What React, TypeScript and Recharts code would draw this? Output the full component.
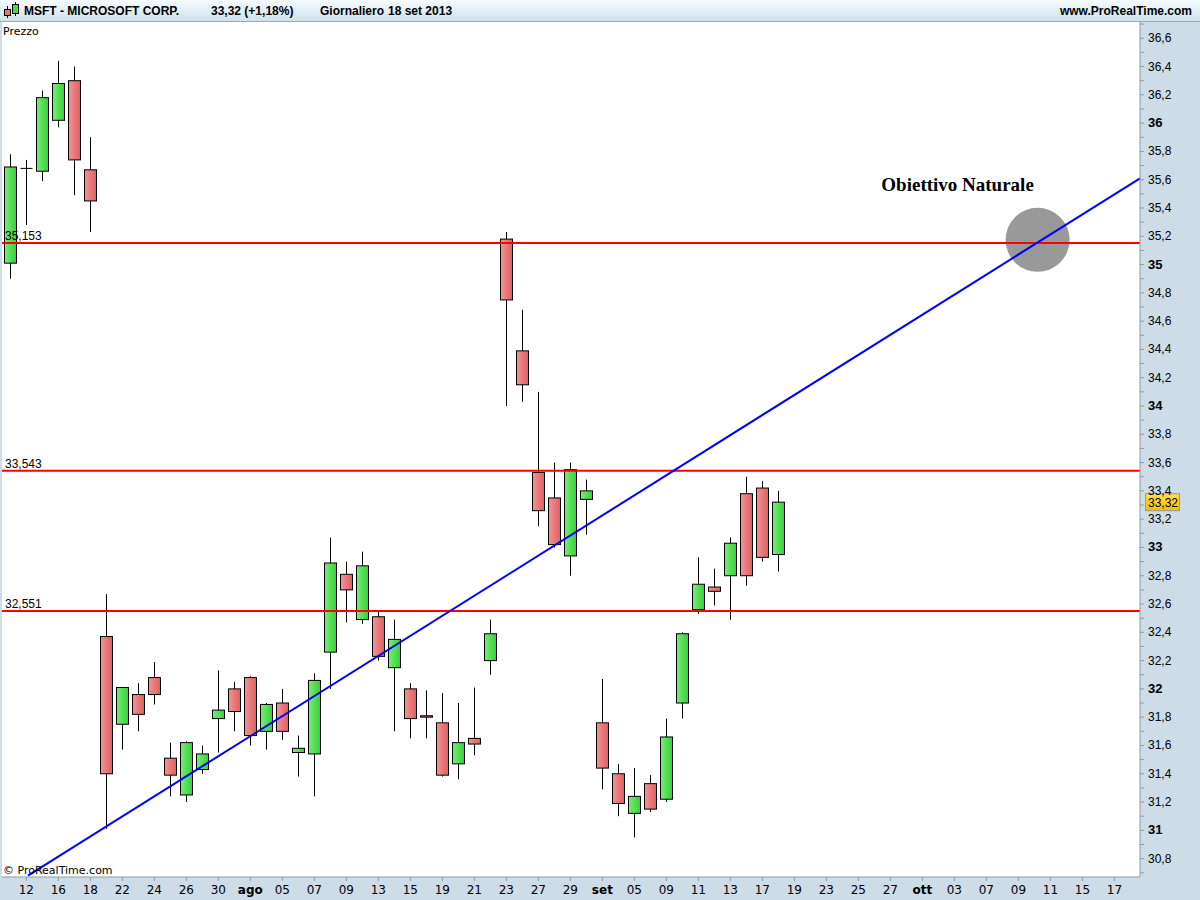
import React from "react";
import {
  ComposedChart,
  Bar,
  XAxis,
  YAxis,
  CartesianGrid,
  ReferenceLine,
} from "recharts";

// daily OHLC, MSFT, one entry per session (11 jul - 18 set 2013)
const opens = [
  35.01, 35.68, 35.66, 36.02, 36.3, 35.67, 32.37, 31.75, 31.96, 32.08, 31.51, 31.25, 31.43,
  31.79, 32.0, 32.08, 31.7, 31.9, 31.55, 31.54, 32.26, 32.81, 32.49, 32.51, 32.15, 32.0,
  31.81, 31.76, 31.47, 31.65, 32.2, 35.18, 34.39, 33.53, 33.35, 32.94, 33.34, 31.76, 31.4,
  31.12, 31.33, 31.22, 31.9, 32.56, 32.72, 32.8, 33.38, 33.42, 32.95,
];
const highs = [
  35.78, 35.74, 36.23, 36.44, 36.4, 35.9, 32.67, 32.01, 32.04, 32.19, 31.62, 31.63, 31.6,
  32.13, 32.05, 32.09, 31.9, 32.0, 31.67, 32.11, 33.07, 32.9, 32.97, 32.55, 32.49, 32.04,
  31.99, 31.97, 31.9, 32.01, 32.49, 35.23, 34.68, 34.1, 33.6, 33.6, 33.48, 32.07, 31.47,
  31.44, 31.39, 31.79, 32.4, 32.93, 32.85, 33.07, 33.5, 33.47, 33.4,
];
const lows = [
  34.9, 35.28, 35.59, 35.97, 35.49, 35.23, 31.01, 31.57, 31.7, 31.89, 31.24, 31.2, 31.4,
  31.55, 31.7, 31.6, 31.57, 31.64, 31.38, 31.24, 32.0, 32.47, 32.46, 32.2, 31.7, 31.65,
  31.65, 31.38, 31.36, 31.53, 32.1, 34.0, 34.03, 33.15, 33.0, 32.8, 33.09, 31.29, 31.1,
  30.95, 31.13, 31.2, 31.79, 32.53, 32.59, 32.49, 32.73, 32.9, 32.83,
];
const closes = [
  35.69, 35.68, 36.18, 36.28, 35.74, 35.45, 31.4, 32.01, 31.82, 31.96, 31.39, 31.62, 31.54,
  31.85, 31.84, 31.67, 31.89, 31.7, 31.58, 32.06, 32.89, 32.7, 32.87, 32.23, 32.35, 31.79,
  31.8, 31.39, 31.62, 31.61, 32.39, 34.75, 34.15, 33.26, 33.02, 33.55, 33.4, 31.44, 31.19,
  31.24, 31.15, 31.66, 32.39, 32.74, 32.69, 33.03, 32.8, 32.93, 33.32,
];

// bottom axis labels, one every two sessions starting from the 2nd session
const dateLabels = [
  "12", "16", "18", "22", "24", "26", "30", "ago", "05", "07", "09", "13", "15", "19", "21",
  "23", "27", "29", "set", "05", "09", "11", "13", "17", "19", "23", "25", "27", "ott", "03",
  "07", "09", "11", "15", "17",
];
const monthLabels = ["ago", "set", "ott"];

const priceLabels = [
  30.8, 31, 31.2, 31.4, 31.6, 31.8, 32, 32.2, 32.4, 32.6, 32.8, 33, 33.2, 33.4, 33.6, 33.8,
  34, 34.2, 34.4, 34.6, 34.8, 35, 35.2, 35.4, 35.6, 35.8, 36, 36.2, 36.4, 36.6,
];

const levels = [35.153, 33.543, 32.551];
const trendLine = [
  { x: 1.1, y: 30.68 },
  { x: 70.6, y: 35.61 },
];
const target = { x: 64.2, y: 35.175, label: "Obiettivo Naturale" };
const lastPrice = 33.32;

const data = opens.map((o, i) => ({
  i,
  open: o,
  high: highs[i],
  low: lows[i],
  close: closes[i],
}));
const dateTicks = dateLabels.map((_, k) => 1 + 2 * k);
const priceTicks = [...priceLabels, ...priceLabels.map((p) => +(p - 0.1).toFixed(1)), 36.7].sort(
  (a, b) => a - b
);

const PANEL = "#cddce6";
const AXIS = "#8d9ba6";
const fmt = (v: number) => String(v).replace(".", ",");

const Candle = (props: any) => {
  const { x, width, payload } = props;
  const y = Math.min(props.y, props.y + props.height);
  const h = Math.abs(props.height);
  const { open, close, high, low } = payload;
  const unit = high > low ? h / (high - low) : 0;
  const yOf = (v: number) => y + (high - v) * unit;
  const cx = Math.round(x + width / 2) + 0.5;
  const top = yOf(Math.max(open, close));
  const bot = yOf(Math.min(open, close));
  const up = close >= open;
  return (
    <g>
      <line x1={cx} x2={cx} y1={y} y2={y + h} stroke="#000" strokeWidth={1} />
      {bot - top < 1 ? (
        <line x1={cx - 6} x2={cx + 6} y1={top} y2={top} stroke="#000" strokeWidth={1} />
      ) : (
        <rect
          x={cx - 6}
          y={top}
          width={12}
          height={bot - top}
          fill={up ? "url(#gUp)" : "url(#gDown)"}
          stroke="#000"
          strokeWidth={1}
        />
      )}
    </g>
  );
};

const PriceTick = (props: any) => {
  const { x, y, payload } = props;
  const v = payload.value;
  const tenth = Math.round(v * 10);
  if (tenth % 2 !== 0 || v > 36.65) return null;
  const whole = tenth % 10 === 0;
  return (
    <text
      x={x}
      y={y + 4}
      fontSize={whole ? 13 : 12}
      fontWeight={whole ? "bold" : "normal"}
      fontFamily="'Liberation Sans', Arial, sans-serif"
      fill="#000"
    >
      {fmt(+v.toFixed(1))}
    </text>
  );
};

const DateTick = (props: any) => {
  const { x, y, payload } = props;
  const label = dateLabels[dateTicks.indexOf(payload.value)] ?? "";
  const bold = monthLabels.includes(label);
  return (
    <text
      x={x}
      y={y + 11}
      textAnchor="middle"
      fontSize={12}
      fontWeight={bold ? "bold" : "normal"}
      fontFamily="'DejaVu Sans', sans-serif"
      fill="#000"
    >
      {label}
    </text>
  );
};

const PriceTag = (props: any) => {
  const { viewBox } = props;
  const x = viewBox.x + viewBox.width + 5;
  const y = viewBox.y;
  return (
    <g>
      <rect x={x + 0.5} y={y - 8.5} width={34} height={17} fill="url(#gTag)" stroke="#9a9a9a" />
      <text
        x={x + 3}
        y={y + 5}
        fontSize={12}
        fontFamily="'Liberation Sans', Arial, sans-serif"
        fill="#000"
      >
        {fmt(lastPrice)}
      </text>
    </g>
  );
};

// grey target circle + caption, drawn as a zero-length reference segment so it sits under the lines
const TargetShape = (props: any) => {
  const { x1, y1 } = props;
  if (x1 == null || y1 == null) return null;
  return (
    <g>
      <circle cx={x1} cy={y1} r={32} fill="#999999" />
      <text
        x={x1 - 80}
        y={y1 - 49}
        textAnchor="middle"
        fontSize={19}
        fontWeight="bold"
        fontFamily="'Liberation Serif', 'Times New Roman', serif"
        fill="#000"
      >
        {target.label}
      </text>
    </g>
  );
};

const headerFont: React.CSSProperties = {
  position: "absolute",
  top: 4,
  fontFamily: "'Liberation Sans', Arial, sans-serif",
  fontWeight: "bold",
  fontSize: 12,
  color: "#000",
  whiteSpace: "nowrap",
};

export default function App() {
  return (
    <div
      style={{
        position: "absolute",
        left: 0,
        top: 0,
        width: 1200,
        height: 900,
        background: PANEL,
        overflow: "hidden",
      }}
    >
      <ComposedChart
        width={1200}
        height={900}
        data={data}
        margin={{ top: 22, right: 0, bottom: 0, left: 2 }}
      >
        <defs>
          <linearGradient id="gUp" x1="0" y1="0" x2="1" y2="0">
            <stop offset="0%" stopColor="#72f272" />
            <stop offset="100%" stopColor="#3dcb3d" />
          </linearGradient>
          <linearGradient id="gDown" x1="0" y1="0" x2="1" y2="0">
            <stop offset="0%" stopColor="#f99191" />
            <stop offset="100%" stopColor="#d96262" />
          </linearGradient>
          <linearGradient id="gTag" x1="0" y1="0" x2="0" y2="1">
            <stop offset="0%" stopColor="#ffe04a" />
            <stop offset="100%" stopColor="#f2bd00" />
          </linearGradient>
        </defs>
        <CartesianGrid fill="#fff" horizontal={false} vertical={false} />
        <XAxis
          dataKey="i"
          type="number"
          domain={[-0.52, 70.6]}
          allowDataOverflow
          ticks={dateTicks}
          interval={0}
          height={23}
          tickSize={4}
          tickMargin={2}
          stroke={AXIS}
          tick={<DateTick />}
        />
        <YAxis
          orientation="right"
          type="number"
          domain={[30.67, 36.715]}
          allowDataOverflow
          ticks={priceTicks}
          interval={0}
          width={60}
          tickSize={4}
          tickMargin={4}
          stroke={AXIS}
          tick={<PriceTick />}
        />
        <Bar
          dataKey={(d: any) => [d.low, d.high]}
          barSize={12}
          shape={<Candle />}
          isAnimationActive={false}
        />
        <ReferenceLine
          segment={[
            { x: target.x, y: target.y },
            { x: target.x, y: target.y },
          ]}
          shape={<TargetShape />}
        />
        {levels.map((lv) => (
          <ReferenceLine
            key={lv}
            y={lv}
            stroke="#ff0000"
            strokeWidth={2}
            label={{
              value: fmt(lv),
              position: "insideBottomLeft",
              offset: 3,
              fontSize: 12,
              fill: "#000",
              fontFamily: "'Liberation Sans', Arial, sans-serif",
            }}
          />
        ))}
        <ReferenceLine segment={trendLine} stroke="#0000ff" strokeWidth={2} />
        <ReferenceLine y={lastPrice} stroke="none" label={<PriceTag />} />
      </ComposedChart>

      <div
        style={{
          position: "absolute",
          left: 0,
          top: 0,
          width: 1200,
          height: 21,
          background: "linear-gradient(#f5fbfe, #cfe1eb)",
          borderBottom: "1px solid #9aabb7",
        }}
      >
        <svg width={20} height={21} style={{ position: "absolute", left: 3, top: 0 }}>
          <line x1={4.5} x2={4.5} y1={6} y2={18} stroke="#000" />
          <rect x={1.5} y={9.5} width={6} height={6} fill="#f07070" stroke="#000" />
          <line x1={12.5} x2={12.5} y1={2} y2={16} stroke="#000" />
          <rect x={9.5} y={4.5} width={6} height={9} fill="#44dd44" stroke="#000" />
        </svg>
        <span style={{ ...headerFont, left: 24 }}>MSFT - MICROSOFT CORP.</span>
        <span style={{ ...headerFont, left: 211 }}>33,32 (+1,18%)</span>
        <span style={{ ...headerFont, left: 320 }}>Giornaliero</span>
        <span style={{ ...headerFont, left: 388 }}>18 set 2013</span>
        <span style={{ ...headerFont, right: 8 }}>www.ProRealTime.com</span>
      </div>
      <div
        style={{
          position: "absolute",
          left: 3,
          top: 25,
          fontFamily: "'DejaVu Sans', sans-serif",
          fontSize: 11,
        }}
      >
        Prezzo
      </div>
      <div
        style={{
          position: "absolute",
          left: 3,
          top: 864,
          fontFamily: "'DejaVu Sans', sans-serif",
          fontSize: 11,
        }}
      >
        © ProRealTime.com
      </div>
    </div>
  );
}
